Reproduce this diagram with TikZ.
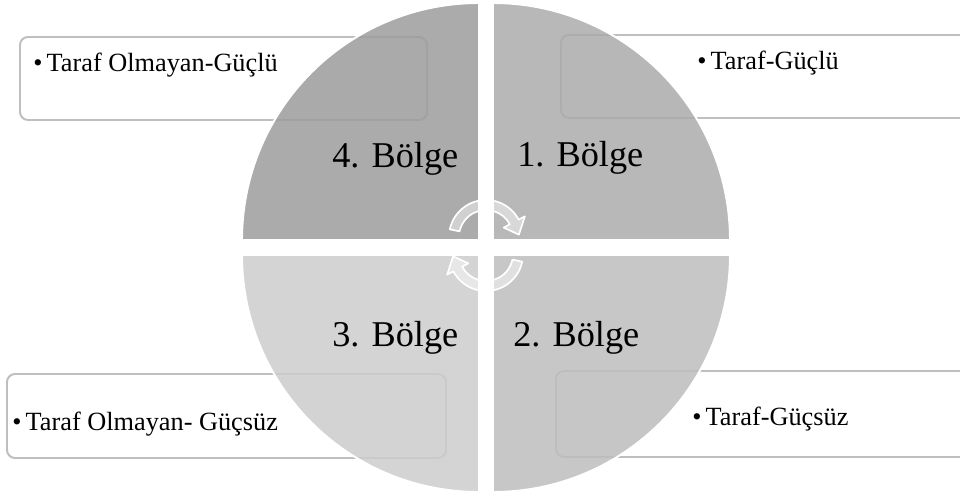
\documentclass[tikz,border=0pt]{standalone}
\usepackage{fontspec}
\setmainfont{Liberation Serif}
\usetikzlibrary{calc}

\definecolor{quadFour}{gray}{0.61}
\definecolor{quadOne}{gray}{0.67}
\definecolor{quadTwo}{gray}{0.74}
\definecolor{quadThree}{gray}{0.80}
\definecolor{boxLine}{gray}{0.75}

\begin{document}
\begin{tikzpicture}[
        x=0.025cm, y=0.025cm,
        infobox/.style={draw=boxLine, line width=1.4pt, fill=white, rounded corners=0.2cm},
        quad/.style={fill opacity=0.85, draw=white, line width=1.4pt},
        zoneText/.style={font=\fontsize{25.8}{30}\selectfont, anchor=base west, inner sep=0pt},
        itemText/.style={font=\fontsize{18.7}{22}\selectfont, anchor=base west, inner sep=0pt},
        cycleArrow/.style={fill=white, fill opacity=0.45, draw=white, line width=1.2pt, line join=round}
    ]

        % === DEFINITIONS & COORDINATES ===
        \def\rad{237}     % Radius of the quarter discs
        \def\rIn{27}      % Inner radius of the cycle arrows
        \def\rOut{37}     % Outer radius of the cycle arrows
        \def\bul{•\hspace{3pt}}

        \useasboundingbox (0,0) rectangle (960,494);

        % Corners of the four quarters
        \coordinate (cQ4) at (479,254);
        \coordinate (cQ1) at (493,254);
        \coordinate (cQ2) at (493,239);
        \coordinate (cQ3) at (479,239);

        % === 1. TEXT BOXES (behind the disc) ===
        \draw[infobox] (20,374) coordinate (boxTL) rectangle (427,457);
        \draw[infobox] (561,376) coordinate (boxTR) rectangle (975,459);
        \draw[infobox] (7,36) coordinate (boxBL) rectangle (446,120);
        \draw[infobox] (556,37) coordinate (boxBR) rectangle (975,123);

        % === 2. THE FOUR QUARTERS ===
        \path[quad, fill=quadFour] (cQ4) -- ++(-\rad,0) arc[start angle=180, end angle=90, radius=\rad] -- cycle;
        \path[quad, fill=quadOne] (cQ1) -- ++(0,\rad) arc[start angle=90, end angle=0, radius=\rad] -- cycle;
        \path[quad, fill=quadTwo] (cQ2) -- ++(\rad,0) arc[start angle=0, end angle=-90, radius=\rad] -- cycle;
        \path[quad, fill=quadThree] (cQ3) -- ++(0,-\rad) arc[start angle=270, end angle=180, radius=\rad] -- cycle;

        % === 3. CYCLE ARROWS ===
        \coordinate (cycTop) at (486,257);
        \coordinate (cycBot) at (486,240);

        \draw[cycleArrow] ($(cycTop)+(168:\rOut)$) arc[start angle=168, end angle=28, radius=\rOut]
            -- ($(cycTop)+(28:44)$) -- ($(cycTop)+(4:33)$) -- ($(cycTop)+(28:20)$)
            -- ($(cycTop)+(28:\rIn)$) arc[start angle=28, end angle=168, radius=\rIn] -- cycle;
        \draw[cycleArrow] ($(cycBot)+(-12:\rOut)$) arc[start angle=-12, end angle=-152, radius=\rOut]
            -- ($(cycBot)+(-152:44)$) -- ($(cycBot)+(-176:33)$) -- ($(cycBot)+(-152:20)$)
            -- ($(cycBot)+(-152:\rIn)$) arc[start angle=-152, end angle=-12, radius=\rIn] -- cycle;

        % === 4. ZONE LABELS ===
        \node[zoneText] (zone4) at (332,326) {4. Bölge};
        \node[zoneText] (zone1) at (517,327) {1. Bölge};
        \node[zoneText] (zone3) at (332,147) {3. Bölge};
        \node[zoneText] (zone2) at (513,147) {2. Bölge};

        % === 5. BOX TEXTS ===
        \node[itemText] (itemTL) at (33,422) {\bul Taraf Olmayan-Güçlü};
        \node[itemText] (itemTR) at (697,424) {\bul Taraf-Güçlü};
        \node[itemText] (itemBL) at (12,64) {\bul Taraf Olmayan- Güçsüz};
        \node[itemText] (itemBR) at (692,69) {\bul Taraf-Güçsüz};

    \end{tikzpicture}
\end{document}
